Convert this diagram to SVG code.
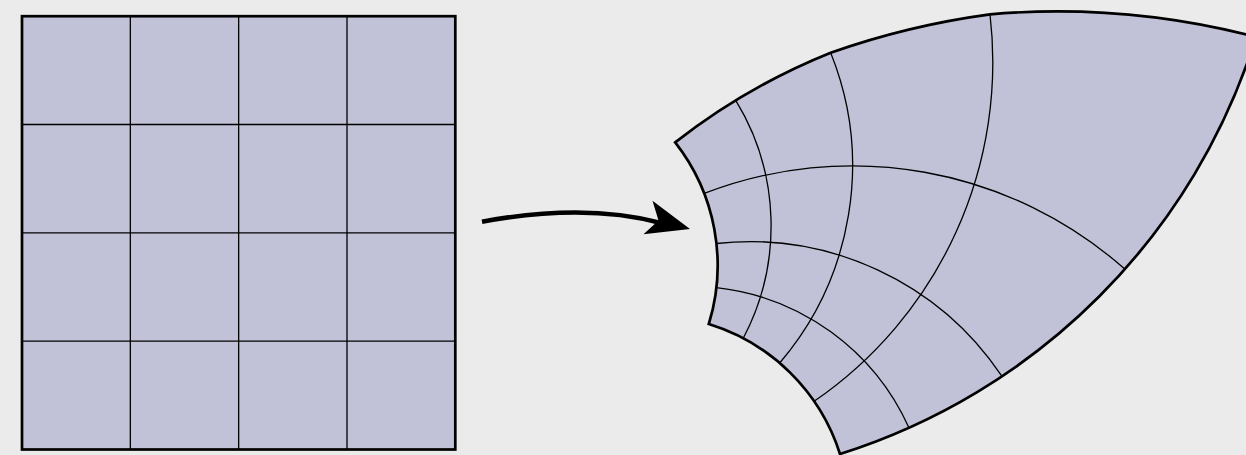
<svg xmlns="http://www.w3.org/2000/svg" width="1246" height="455" viewBox="0 0 1246 455">
  <style>
    .bg { fill: #ebebeb; }
    .cell { fill: #c1c1d8; stroke: none; }
    .inner { fill: none; stroke: #000; stroke-width: 1.3; }
    .outline { fill: none; stroke: #000; stroke-width: 2.7; stroke-linejoin: miter; stroke-miterlimit: 10; }
    .shaft { fill: none; stroke: #000; stroke-width: 4.6; stroke-linecap: butt; }
    .head { fill: #000; stroke: none; }
  </style>
  <rect class="bg" x="0" y="0" width="1246" height="455"/>

  <g id="square-grid">
    <rect class="cell" x="22" y="16.2" width="433.3" height="433.3"/>
    <path class="inner" d="M130.33,16.2 V449.5 M238.67,16.2 V449.5 M347,16.2 V449.5 M22,124.5 H455.3 M22,232.8 H455.3 M22,341.2 H455.3"/>
    <rect class="outline" x="22" y="16.2" width="433.3" height="433.3"/>
  </g>

  <g id="mapped-grid">
    <path class="cell" d="M675.18,142.4 A636.21,636.21 0 0 1 830.68,52.68 A800,800 0 0 1 990,14.3 A790,790 0 0 1 1256,37 A636.21,636.21 0 0 1 840,453.99 A199.26,199.26 0 0 0 708.8,324.01 A199.26,199.26 0 0 0 675.18,142.4 Z"/>
    <path class="inner" d="M735.75,100.35 A240.56,240.56 0 0 1 743.22,338.26"/>
    <path class="inner" d="M830.68,52.68 A303.46,303.46 0 0 1 779.66,363.01"/>
    <path class="inner" d="M990,14.3 A410.92,410.92 0 0 1 814.11,401.24"/>
    <path class="inner" d="M704.22,193.48 A410.92,410.92 0 0 1 1124.19,268.54"/>
    <path class="inner" d="M716.43,243.48 A303.46,303.46 0 0 1 1001.67,375.96"/>
    <path class="inner" d="M716.39,287.53 A240.56,240.56 0 0 1 908.84,427.59"/>
    <path class="outline" d="M675.18,142.4 A636.21,636.21 0 0 1 830.68,52.68 A800,800 0 0 1 990,14.3 A790,790 0 0 1 1256,37 A636.21,636.21 0 0 1 840,453.99 A199.26,199.26 0 0 0 708.8,324.01 A199.26,199.26 0 0 0 675.18,142.4 Z"/>
  </g>

  <g id="connectors">
    <path class="shaft" d="M482,221.7 C541,210.8 602,207 661,223"/>
    <polygon class="head" points="690,229 652.5,200.7 658.5,220.5 643.5,234.3"/>
  </g>
</svg>
